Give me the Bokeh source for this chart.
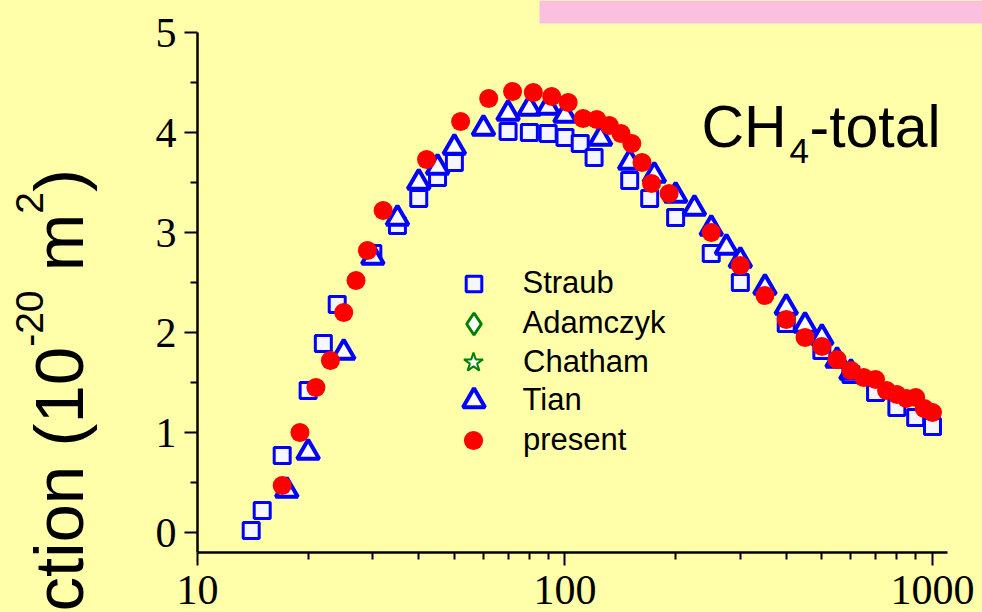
import numpy as np
from bokeh.plotting import figure
from bokeh.layouts import row
from bokeh.models import (Range1d, Label, Legend, LegendItem, FixedTicker,
                          BoxAnnotation, Div)
from bokeh.embed import file_html
from bokeh.resources import INLINE

# ---------------- data ----------------
straub_e = [14, 15, 17, 20, 22, 24, 30, 35, 40, 45, 50, 70, 80, 90, 100, 110, 120,
            150, 170, 200, 250, 300, 400, 500, 600, 700, 800, 900, 1000]
straub_s = [0.02, 0.22, 0.77, 1.42, 1.89, 2.28, 2.79, 3.07, 3.34, 3.55, 3.70, 4.01, 4.00,
            3.99, 3.95, 3.89, 3.75, 3.52, 3.34, 3.15, 2.79, 2.50, 2.09, 1.82, 1.58,
            1.40, 1.25, 1.15, 1.06]

# no Adamczyk / Chatham points are visible in this panel (legend entries only)
adamczyk_e = [float("nan")]
adamczyk_s = [float("nan")]
chatham_e = [float("nan")]
chatham_s = [float("nan")]

tian_e = [17.5, 20, 25, 30, 35, 40, 45, 50, 60, 70, 80, 90, 100, 125, 150, 175, 200,
          225, 250, 275, 300, 350, 400, 450, 500, 550, 600]
tian_s = [0.42, 0.80, 1.80, 2.75, 3.14, 3.50, 3.65, 3.85, 4.04, 4.19, 4.24, 4.25, 4.17,
          3.94, 3.70, 3.57, 3.37, 3.24, 3.04, 2.85, 2.72, 2.45, 2.25, 2.07, 1.95,
          1.72, 1.60]

present_e = [17, 19, 21, 23, 25, 27, 29, 32, 42, 52, 62, 72, 82, 92, 102, 112, 122, 132,
             142, 152, 162, 172, 192, 250, 300, 350, 400, 450, 500, 550, 600, 650, 700,
             750, 800, 850, 900, 950, 1000]
present_s = [0.47, 1.00, 1.45, 1.72, 2.20, 2.52, 2.82, 3.22, 3.73, 4.11, 4.34, 4.41, 4.40,
             4.36, 4.30, 4.14, 4.13, 4.07, 3.99, 3.89, 3.70, 3.49, 3.39, 3.00, 2.67,
             2.37, 2.13, 1.95, 1.86, 1.73, 1.62, 1.55, 1.53, 1.42, 1.38, 1.34, 1.35,
             1.24, 1.20]

series_names = ["Straub", "Adamczyk", "Chatham", "Tian", "present"]

x_major = [10, 100, 1000]
x_minor = [20, 30, 40, 50, 60, 70, 80, 90, 200, 300, 400, 500, 600, 700, 800, 900]
y_major = [0, 1, 2, 3, 4, 5]
y_minor = [0.5, 1.5, 2.5, 3.5, 4.5]

# y-axis title: main text, exponent, unit, unit exponent, closing bracket
yt_main, yt_exp, yt_unit, yt_uexp, yt_close = "ction (10", "-20", " m", "2", ")"

BG = "#FFFFAA"
SANS = "Liberation Sans"
SERIF = "Liberation Serif"

W_LEFT = 140          # strip that carries the rotated y title
W_MAIN = 982 - W_LEFT
FL, FB = 197, 552     # main frame's left / bottom edge in page pixels

# ---------------- left strip: rotated y-axis title (real text) ----------------
sup = "font-size:39px; position:relative; top:-40px;"
html = (
    f'<div style="position:relative; width:{W_LEFT}px; height:612px; overflow:hidden;'
    f' background:{BG}; margin:0; padding:0;">'
    '<div style="position:absolute; left:0; top:0; transform-origin:0 0;'
    ' transform:translate(24.6px, 611.5px) rotate(-90deg); white-space:pre;'
    f" font-family:'{SANS}'; font-size:69px; line-height:69px; color:black;\">"
    f'{yt_main}<span style="{sup}">{yt_exp}</span>{yt_unit}'
    f'<span style="{sup}">{yt_uexp}</span>{yt_close}'
    '</div></div>'
)
left = Div(text=html, width=W_LEFT, height=612,
           styles={"background-color": BG, "margin": "0", "padding": "0",
                   "overflow": "hidden"})

# ---------------- main plot ----------------
p = figure(width=W_MAIN, height=612, x_axis_type="log",
           x_range=Range1d(10, 1368), y_range=Range1d(-0.2, 5.32),
           output_backend="svg", toolbar_location=None, title=None,
           min_border_left=FL - W_LEFT, min_border_right=0,
           min_border_top=0, min_border_bottom=60)
p.background_fill_color = BG
p.border_fill_color = BG
p.outline_line_color = None
p.xgrid.visible = False
p.ygrid.visible = False

for ax in (p.xaxis[0], p.yaxis[0]):
    ax.axis_line_width = 2.5
    ax.axis_line_color = "black"
    ax.major_tick_line_width = 2
    ax.minor_tick_line_width = 2
    ax.major_tick_in = 0
    ax.major_tick_out = 13
    ax.minor_tick_in = 0
    ax.minor_tick_out = 7
    ax.major_label_text_font = SERIF
    ax.major_label_text_font_size = "42px"
    ax.major_label_text_color = "black"

p.xaxis.ticker = FixedTicker(ticks=x_major, minor_ticks=x_minor)
p.xaxis.major_label_overrides = {v: str(v) for v in x_major}
p.xaxis.major_label_standoff = 10
p.xaxis.bounds = (10, 1100)
p.yaxis.ticker = FixedTicker(ticks=y_major, minor_ticks=y_minor)
p.yaxis.major_label_overrides = {v: str(v) for v in y_major}
p.yaxis.major_label_standoff = 8
p.yaxis.bounds = (-0.2, 5.0)

r_straub = p.scatter(straub_e, straub_s, marker="square", size=16, line_width=3,
                     line_color="#0000FF", fill_color="#F6F6FF")
r_adam = p.scatter(adamczyk_e, adamczyk_s, marker="diamond", size=16,
                   line_width=3, line_color="#008000", fill_color="white")
r_chat = p.scatter(chatham_e, chatham_s, marker="star", size=16, line_width=2,
                   line_color="#008000", fill_color="white")
r_tian = p.scatter(tian_e, tian_s, marker="triangle", size=22, line_width=4,
                   line_color="#0000FF", fill_color="white")
r_pres = p.scatter(present_e, present_s, marker="circle", size=19, line_width=0,
                   line_color="#FF0000", fill_color="#FF0000")

# legend: one entry per box so each marker can have its own sample size
LEG_X, LEG_TEXT_X = 473, 523                      # marker centre / text start (page px)
leg_rows = [283, 323, 362, 400, 440]              # row centres (page px)
leg_box = [39, 55, 50, 55, 48]                    # sample box -> marker size = 0.4*box
for name, rend, yc, g in zip(series_names, [r_straub, r_adam, r_chat, r_tian, r_pres],
                             leg_rows, leg_box):
    lg = Legend(items=[LegendItem(label=name, renderers=[rend])],
                location=(LEG_X - g / 2 - FL, FB - yc - g / 2),
                glyph_width=g, glyph_height=g, label_height=30,
                label_standoff=int(round(LEG_TEXT_X - LEG_X - g / 2)),
                spacing=0, padding=0, margin=0,
                background_fill_alpha=0, border_line_alpha=0,
                label_text_font=SANS, label_text_font_size="31px",
                label_text_color="black")
    p.add_layout(lg, "center")


def lab(text, px, py, size):
    p.add_layout(Label(x=px - FL, y=FB - py, x_units="screen", y_units="screen",
                       text=text, text_font=SANS, text_font_size=size,
                       text_color="black", text_align="left",
                       text_baseline="alphabetic"))


# in-plot title CH4-total
lab("CH", 701, 126, "59px")
lab("4", 789, 150, "35px")
lab("-total", 809, 126, "59px")

# pink band at the top right
p.add_layout(BoxAnnotation(left=539 - FL, right=982 - FL, top=FB, bottom=FB - 23,
                           left_units="screen", right_units="screen",
                           top_units="screen", bottom_units="screen",
                           fill_color="#FBBFE0", fill_alpha=1.0, line_alpha=0,
                           level="underlay"))

layout = row(left, p, spacing=0, styles={"background-color": BG})
open("out.html", "w").write(file_html(layout, INLINE))
